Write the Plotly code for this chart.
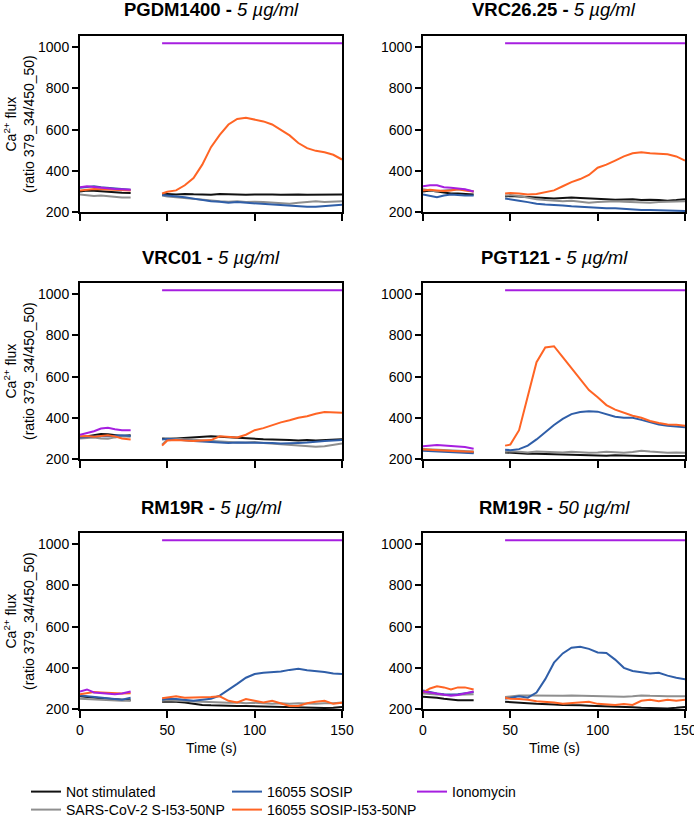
import plotly.graph_objects as go
from plotly.subplots import make_subplots

# time points (s): baseline reading, then reading after stimulation
t_base = [0, 4, 8, 12, 16, 20, 24, 29]
t_stim = [47, 50, 55, 60, 65, 70, 75, 80, 85, 90, 95, 100, 105, 110, 115, 120, 125, 130, 135, 140, 145, 150]

iono_stim = [1020, 1020, 1020, 1020, 1020, 1020, 1020, 1020, 1020, 1020, 1020,
             1020, 1020, 1020, 1020, 1020, 1020, 1020, 1020, 1020, 1020, 1020]

# PGDM1400 - 5 ug/ml (8 baseline values + 22 stimulated values)
p1_not = [300, 305, 303, 300, 298, 295, 293, 292, 285, 287, 285, 288, 286, 285, 284, 287, 285, 286, 284, 285, 286, 285, 284, 286, 285, 284, 285, 286, 285, 285]
p1_sars = [285, 280, 278, 280, 276, 272, 270, 270, 280, 275, 272, 268, 262, 258, 255, 252, 250, 252, 248, 250, 248, 245, 242, 240, 245, 250, 252, 248, 250, 252]
p1_sosip = [318, 322, 325, 320, 318, 315, 312, 308, 282, 280, 278, 272, 265, 258, 252, 250, 245, 248, 245, 242, 240, 238, 235, 232, 228, 225, 225, 228, 230, 235]
p1_np = [305, 310, 312, 310, 308, 306, 305, 304, 290, 298, 305, 330, 365, 430, 515, 575, 625, 652, 658, 648, 640, 625, 600, 572, 535, 510, 497, 490, 478, 455]
p1_iono = [320, 325, 322, 318, 316, 312, 310, 308]

# VRC26.25 - 5 ug/ml
p2_not = [300, 305, 300, 295, 290, 290, 288, 285, 275, 278, 275, 272, 270, 268, 265, 268, 270, 268, 265, 262, 262, 260, 260, 262, 258, 260, 258, 255, 258, 262]
p2_sars = [310, 305, 300, 305, 308, 310, 308, 300, 280, 282, 278, 270, 262, 258, 255, 252, 255, 250, 245, 248, 250, 252, 250, 248, 245, 245, 248, 250, 250, 252]
p2_sosip = [285, 278, 272, 280, 285, 283, 280, 280, 265, 262, 255, 248, 240, 236, 235, 232, 228, 225, 222, 220, 218, 218, 215, 212, 210, 210, 208, 207, 206, 205]
p2_np = [305, 308, 305, 302, 305, 310, 305, 300, 290, 292, 290, 285, 288, 295, 305, 325, 345, 360, 380, 415, 430, 450, 470, 485, 490, 485, 482, 480, 470, 450]
p2_iono = [325, 330, 330, 320, 318, 315, 310, 300]

# VRC01 - 5 ug/ml
p3_not = [305, 310, 318, 322, 320, 315, 312, 315, 300, 298, 300, 302, 305, 308, 310, 308, 305, 302, 300, 298, 296, 295, 295, 292, 290, 292, 290, 292, 295, 296]
p3_sars = [300, 302, 305, 300, 298, 305, 310, 308, 270, 295, 298, 295, 292, 290, 288, 285, 282, 280, 280, 282, 278, 275, 272, 270, 265, 262, 260, 262, 268, 275]
p3_sosip = [305, 308, 310, 312, 310, 312, 315, 312, 295, 298, 295, 290, 288, 285, 282, 280, 278, 280, 280, 278, 280, 278, 275, 275, 278, 280, 285, 288, 290, 292]
p3_np = [310, 312, 308, 310, 315, 310, 300, 295, 265, 290, 292, 290, 288, 290, 292, 310, 308, 305, 318, 340, 350, 365, 378, 388, 400, 408, 420, 428, 425, 425]
p3_iono = [318, 325, 335, 348, 352, 345, 340, 340]

# PGT121 - 5 ug/ml
p4_not = [245, 243, 240, 238, 236, 235, 233, 232, 232, 230, 228, 226, 225, 224, 222, 222, 220, 218, 216, 215, 216, 218, 218, 218, 215, 214, 215, 216, 215, 215]
p4_sars = [248, 246, 244, 242, 240, 240, 238, 236, 235, 238, 235, 232, 236, 234, 233, 232, 235, 232, 230, 232, 235, 233, 230, 234, 240, 236, 232, 230, 232, 230]
p4_sosip = [240, 238, 238, 236, 234, 232, 230, 228, 245, 243, 248, 265, 295, 330, 365, 395, 418, 428, 432, 430, 418, 405, 400, 400, 390, 378, 368, 362, 358, 354]
p4_np = [246, 245, 243, 241, 240, 238, 236, 235, 265, 270, 340, 505, 670, 742, 748, 695, 640, 590, 535, 500, 462, 440, 425, 410, 400, 385, 375, 368, 366, 362]
p4_iono = [262, 265, 268, 265, 262, 260, 258, 250]

# RM19R - 5 ug/ml
p5_not = [262, 258, 255, 252, 250, 248, 245, 242, 235, 236, 235, 232, 225, 220, 218, 218, 216, 215, 214, 213, 212, 212, 210, 208, 207, 205, 205, 205, 206, 210]
p5_sars = [250, 248, 245, 245, 244, 242, 240, 240, 240, 242, 240, 238, 236, 235, 233, 232, 230, 232, 228, 230, 228, 226, 228, 225, 228, 226, 225, 228, 228, 232]
p5_sosip = [265, 262, 258, 255, 250, 248, 245, 255, 245, 250, 248, 245, 240, 245, 250, 265, 292, 322, 352, 370, 376, 378, 382, 390, 395, 388, 385, 380, 372, 370]
p5_np = [272, 278, 282, 280, 278, 276, 275, 276, 252, 255, 262, 255, 255, 255, 258, 262, 240, 232, 248, 240, 232, 240, 228, 215, 215, 228, 235, 240, 225, 230]
p5_iono = [285, 295, 280, 278, 275, 272, 275, 285]

# RM19R - 50 ug/ml
p6_not = [260, 258, 255, 250, 245, 243, 242, 242, 235, 234, 232, 228, 225, 222, 222, 220, 220, 218, 216, 215, 214, 212, 210, 208, 206, 205, 204, 203, 206, 210]
p6_sars = [275, 272, 270, 268, 268, 270, 272, 272, 258, 262, 265, 265, 264, 264, 263, 264, 265, 264, 262, 264, 262, 262, 260, 262, 266, 264, 262, 262, 262, 262]
p6_sosip = [290, 282, 275, 272, 270, 272, 278, 282, 250, 255, 262, 255, 280, 345, 425, 470, 498, 502, 492, 475, 472, 440, 400, 385, 380, 372, 376, 362, 352, 345]
p6_np = [280, 300, 310, 305, 295, 305, 305, 295, 255, 250, 248, 245, 238, 236, 232, 225, 228, 230, 235, 225, 222, 220, 224, 220, 240, 245, 238, 245, 240, 245]
p6_iono = [285, 280, 275, 270, 265, 268, 275, 285]

titles = [("PGDM1400", "5 µg/ml"), ("VRC26.25", "5 µg/ml"), ("VRC01", "5 µg/ml"),
          ("PGT121", "5 µg/ml"), ("RM19R", "5 µg/ml"), ("RM19R", "50 µg/ml")]
names = ["Not stimulated", "SARS-CoV-2 S-I53-50NP", "16055 SOSIP", "16055 SOSIP-I53-50NP", "Ionomycin"]
colors = ["#111111", "#8f8f8f", "#2f5ea8", "#ff6424", "#a61fe0"]

panels = [
    (p1_not, p1_sars, p1_sosip, p1_np, p1_iono + iono_stim),
    (p2_not, p2_sars, p2_sosip, p2_np, p2_iono + iono_stim),
    (p3_not, p3_sars, p3_sosip, p3_np, p3_iono + iono_stim),
    (p4_not, p4_sars, p4_sosip, p4_np, p4_iono + iono_stim),
    (p5_not, p5_sars, p5_sosip, p5_np, p5_iono + iono_stim),
    (p6_not, p6_sars, p6_sosip, p6_np, p6_iono + iono_stim),
]

W, H = 694, 824
FONT = "Liberation Sans, Arial, sans-serif"

# one small legend per entry so each sits where the reference puts it (x, y centre in px)
leg_ids = ["legend", "legend2", "legend3", "legend4", "legend5"]
leg_pos = [(26, 792), (26, 810), (227, 792), (227, 810), (412, 792)]

fig = make_subplots(rows=3, cols=2)

x_all = t_base + [None] + t_stim
for i, series in enumerate(panels):
    r, c = i // 2 + 1, i % 2 + 1
    for k, vals in enumerate(series):
        y = vals[:8] + [None] + vals[8:]
        fig.add_trace(go.Scatter(
            x=x_all, y=y, mode="lines", name=names[k],
            line=dict(color=colors[k], width=2),
            legend=leg_ids[k], showlegend=(i == 0),
            connectgaps=False,
        ), row=r, col=c)

# pixel placement of the panels
col_px = [(80, 342), (423, 685)]
row_px = [(36, 212), (283, 459), (533, 709)]
title_y = [10, 257, 507]

for i in range(6):
    r, c = i // 2 + 1, i % 2 + 1
    x0, x1 = col_px[c - 1]
    y0, y1 = row_px[r - 1]
    fig.update_xaxes(domain=[x0 / W, x1 / W], range=[0, 150], tickvals=[0, 50, 100, 150],
                     showline=True, linecolor="black", linewidth=2, mirror=True,
                     ticks="outside", ticklen=7, tickwidth=2, tickcolor="black",
                     showgrid=False, zeroline=False, showticklabels=(r == 3),
                     ticklabelstandoff=0, ticklabeloverflow="allow", automargin=False,
                     tickfont=dict(size=14, color="black", family=FONT),
                     row=r, col=c)
    fig.update_yaxes(domain=[1 - y1 / H, 1 - y0 / H], range=[200, 1055],
                     tickvals=[200, 400, 600, 800, 1000],
                     showline=True, linecolor="black", linewidth=2, mirror=True,
                     ticks="outside", ticklen=6, tickwidth=2, tickcolor="black",
                     showgrid=False, zeroline=False, automargin=False,
                     tickfont=dict(size=14, color="black", family=FONT),
                     row=r, col=c)
    name, conc = titles[i]
    fig.add_annotation(text=f"<b>{name} - </b><i>{conc}</i>", xref="paper", yref="paper",
                       x=(x0 + x1) / 2 / W, y=1 - title_y[r - 1] / H,
                       xanchor="center", yanchor="middle", showarrow=False,
                       font=dict(size=18.5, color="black", family=FONT))
    if c == 1:
        fig.add_annotation(text="Ca<sup>2+</sup> flux<br>(ratio 379_34/450_50)",
                           xref="paper", yref="paper", x=19 / W, y=1 - (y0 + y1) / 2 / H,
                           xanchor="center", yanchor="middle", textangle=-90, showarrow=False,
                           font=dict(size=14, color="black", family=FONT))
    if r == 3:
        fig.add_annotation(text="Time (s)", xref="paper", yref="paper",
                           x=(x0 + x1) / 2 / W, y=1 - 748 / H,
                           xanchor="center", yanchor="middle", showarrow=False,
                           font=dict(size=14, color="black", family=FONT))

leg_font = dict(size=14, color="black", family=FONT)
legends = {}
for lid, (lx, ly) in zip(leg_ids, leg_pos):
    legends[lid] = dict(x=lx / W, y=1 - ly / H, xanchor="left", yanchor="middle",
                        orientation="v", font=leg_font, bgcolor="rgba(0,0,0,0)")

fig.update_layout(
    width=W, height=H,
    margin=dict(l=0, r=0, t=0, b=0, autoexpand=False),
    plot_bgcolor="white", paper_bgcolor="white",
    **legends,
)

# page body has a default 8px margin; drop it so the figure sits at the window origin
fig.write_html("out.html", config={"displayModeBar": False},
               post_script="document.body.style.margin = '0px';")
